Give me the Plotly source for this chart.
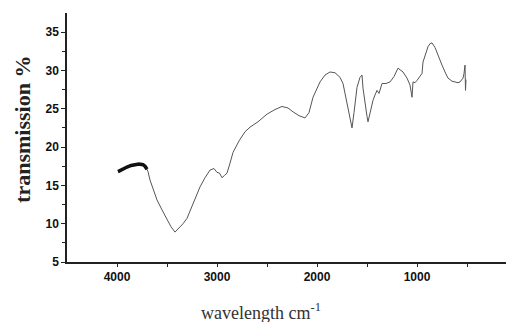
import plotly.graph_objects as go

# Main spectrum (wavenumber cm-1, transmission %)
wavenumber = [3990, 3950, 3900, 3850, 3800, 3760, 3720, 3690, 3670, 3640, 3600, 3550, 3500,
              3460, 3420, 3380, 3340, 3300, 3240, 3170, 3120, 3070, 3030, 3000, 2975, 2950,
              2925, 2900, 2870, 2840, 2780, 2720, 2670, 2590, 2500, 2420, 2350, 2290, 2240,
              2180, 2120, 2080, 2040, 2000, 1970, 1920, 1870, 1820, 1770, 1740, 1720, 1700,
              1690, 1670, 1650, 1630, 1615, 1600, 1570, 1550, 1540, 1520, 1500, 1490, 1470,
              1440, 1420, 1400, 1380, 1350, 1310, 1270, 1230, 1190, 1160, 1140, 1120, 1100,
              1070, 1050, 1040, 1020, 1000, 970, 950, 940, 910, 890, 870, 850, 820, 800,
              770, 750, 720, 690, 650, 620, 590, 570, 550, 540, 530, 520, 515, 510]
transmission = [16.7, 17.0, 17.3, 17.5, 17.7, 17.8, 17.6, 16.8, 15.7, 14.5, 13.1, 11.8, 10.5,
                9.6, 8.9, 9.4, 10.0, 10.7, 12.5, 14.8, 16.0, 17.0, 17.2, 16.7, 16.6, 16.0,
                16.3, 16.6, 17.9, 19.3, 20.8, 22.0, 22.6, 23.3, 24.3, 24.9, 25.3, 25.1, 24.6,
                24.1, 23.8, 24.5, 26.5, 27.6, 28.5, 29.4, 29.8, 29.7, 29.1, 28.3, 27.0, 25.5,
                24.8, 23.8, 22.5, 24.5, 26.5, 27.8, 29.1, 29.4, 27.7, 25.5, 24.0, 23.3, 24.5,
                26.1, 26.8, 27.4, 27.0, 28.3, 28.3, 28.5, 29.2, 30.3, 30.0, 29.8, 29.4, 29.0,
                28.1, 26.5, 28.5, 28.4, 28.7, 29.2, 29.6, 31.1, 32.5, 33.1, 33.5, 33.6, 33.0,
                32.3, 31.5, 30.7, 29.8, 29.0, 28.6, 28.5, 28.4, 28.5, 28.8, 29.0, 29.6, 30.7,
                27.4, 28.8]

# Dense noisy band near 3700-4000 cm-1 (drawn heavier)
band_wavenumber = [3990, 3950, 3900, 3860, 3820, 3780, 3740, 3720, 3700]
band_transmission = [16.8, 17.1, 17.4, 17.6, 17.7, 17.8, 17.7, 17.5, 17.1]

x_ticks = [4000, 3000, 2000, 1000]
y_ticks = [5, 10, 15, 20, 25, 30, 35]

fig = go.Figure()
fig.add_trace(go.Scatter(x=wavenumber, y=transmission, mode="lines",
                         line=dict(color="#555555", width=1), showlegend=False))
fig.add_trace(go.Scatter(x=band_wavenumber, y=band_transmission, mode="lines",
                         line=dict(color="#111111", width=3.5), showlegend=False))

tickfont = dict(family="Liberation Sans", size=12, color="#111", weight="bold")
fig.update_layout(
    width=506, height=314,
    margin=dict(l=59, r=0, t=5, b=60),
    plot_bgcolor="white", paper_bgcolor="white",
    xaxis=dict(range=[4500, 30], tickvals=x_ticks, ticktext=[str(v) for v in x_ticks],
               showgrid=False, zeroline=False, showline=True, linecolor="#222", linewidth=1.5,
               ticks="outside", ticklen=3, tickcolor="#222", tickfont=tickfont,
               minor=dict(tickvals=[3500, 2500, 1500, 500], ticks="outside", ticklen=3,
                          tickcolor="#222")),
    yaxis=dict(range=[5, 37.5], tickvals=y_ticks, showgrid=False, zeroline=False,
               showline=True, linecolor="#222", linewidth=1.5,
               ticks="outside", ticklen=4, tickcolor="#222", tickfont=tickfont,
               minor=dict(tickvals=[7.5, 12.5, 17.5, 22.5, 27.5, 32.5], ticks="outside",
                          ticklen=3, tickcolor="#222")),
    annotations=[
        dict(text="<b>transmission %</b>", x=-0.101, xref="paper", y=0.534, yref="paper",
             textangle=-90, showarrow=False, xanchor="center", yanchor="middle",
             font=dict(family="Liberation Serif", size=22, color="#222")),
        dict(text="wavelength cm<sup>-1</sup>", x=0.435, xref="paper", y=-0.20, yref="paper",
             showarrow=False, xanchor="center", yanchor="middle",
             font=dict(family="Liberation Serif", size=18, color="#333")),
        dict(text="0", x=1, xref="paper", y=-0.064, yref="paper", showarrow=False,
             xanchor="left", yanchor="middle", xshift=-1, font=tickfont),
    ],
)
fig.write_html("out.html")
